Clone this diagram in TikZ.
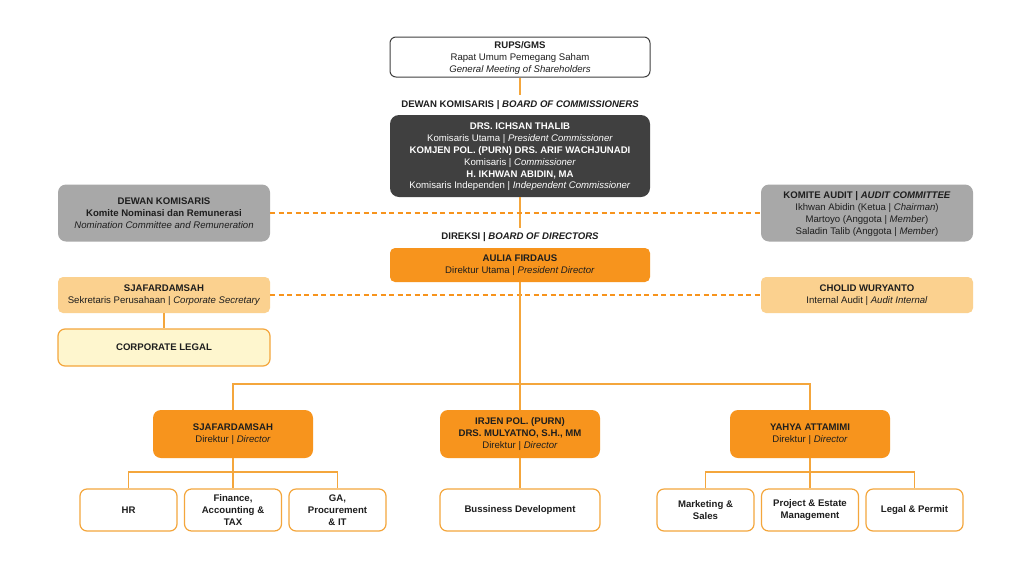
\documentclass[tikz,border=0pt]{standalone}
\usepackage{fontspec}
\setmainfont{Liberation Sans}
\definecolor{ormain}{HTML}{F7941D}
\definecolor{orlight}{HTML}{FBD18F}
\definecolor{orline}{HTML}{F4A63C}
\definecolor{legalfill}{HTML}{FEF6CE}
\definecolor{darkfill}{HTML}{404040}
\definecolor{grayfill}{HTML}{A8A8A8}
\definecolor{txt}{HTML}{1E1E1E}
\begin{document}
\begin{tikzpicture}[x=1pt,y=-1pt,
  every node/.style={font=\fontsize{9.6}{11.8}\selectfont, align=center, text=txt, inner sep=0pt},
  rupsbox/.style={draw=black!75, fill=white, line width=1pt, rounded corners=6pt, minimum width=260pt, minimum height=40pt, text depth=0pt},
  darkbox/.style={fill=darkfill, text=white, rounded corners=9pt, minimum width=260pt, minimum height=82pt, text depth=0pt},
  graybox/.style={fill=grayfill, rounded corners=8pt, minimum width=212pt, minimum height=57pt, text depth=0pt},
  orbox/.style={fill=ormain, rounded corners=5pt, minimum width=#1, minimum height=34pt},
  ltbox/.style={fill=orlight, rounded corners=5pt, minimum width=212pt, minimum height=36pt},
  dirbox/.style={fill=ormain, rounded corners=8pt, minimum width=160pt, minimum height=48pt},
  unitbox/.style={draw=orline, fill=white, line width=1.2pt, rounded corners=7pt, minimum width=#1, minimum height=42pt},
  legalbox/.style={draw=orline, fill=legalfill, line width=1.2pt, rounded corners=7pt, minimum width=212pt, minimum height=37pt},
  conn/.style={draw=orline, line width=1.2pt},
  dconn/.style={draw=ormain, line width=1.3pt, dash pattern=on 5pt off 3.5pt},
  lbl/.style={font=\fontsize{9.6}{11.6}\selectfont\bfseries}
]
\useasboundingbox (0,0) rectangle (1024,576);
\fill[white] (0,0) rectangle (1024,576);

% nodes
\node[rupsbox] (rups) at (520,57) {\textbf{RUPS/GMS}\\Rapat Umum Pemegang Saham\\\textit{General Meeting of Shareholders}};
\node[lbl] (boclbl) at (520,105) {DEWAN KOMISARIS | \textit{BOARD OF COMMISSIONERS}};
\node[darkbox] (boc) at (520,156) {\textbf{DRS. ICHSAN THALIB}\\Komisaris Utama | \textit{President Commissioner}\\\textbf{KOMJEN POL. (PURN) DRS. ARIF WACHJUNADI}\\Komisaris | \textit{Commissioner}\\\textbf{H. IKHWAN ABIDIN, MA}\\Komisaris Independen | \textit{Independent Commissioner}};
\node[graybox] (nom) at (164,213) {\textbf{DEWAN KOMISARIS}\\\textbf{Komite Nominasi dan Remunerasi}\\\textit{Nomination Committee and Remuneration}};
\node[graybox] (aud) at (867,213) {\textbf{KOMITE AUDIT | \textit{AUDIT COMMITTEE}}\\Ikhwan Abidin (Ketua | \textit{Chairman})\\Martoyo (Anggota | \textit{Member})\\Saladin Talib (Anggota | \textit{Member})};
\node[lbl] (bodlbl) at (520,237) {DIREKSI | \textit{BOARD OF DIRECTORS}};
\node[orbox=260pt] (pd) at (520,265) {\textbf{AULIA FIRDAUS}\\Direktur Utama | \textit{President Director}};
\node[ltbox] (sec) at (164,295) {\textbf{SJAFARDAMSAH}\\Sekretaris Perusahaan | \textit{Corporate Secretary}};
\node[ltbox] (ia) at (867,295) {\textbf{CHOLID WURYANTO}\\Internal Audit | \textit{Audit Internal}};
\node[legalbox] (cl) at (164,347.5) {\textbf{CORPORATE LEGAL}};

\node[dirbox] (d1) at (233,434) {\textbf{SJAFARDAMSAH}\\Direktur | \textit{Director}};
\node[dirbox] (d2) at (520,434) {\textbf{IRJEN POL. (PURN)}\\\textbf{DRS. MULYATNO, S.H., MM}\\Direktur | \textit{Director}};
\node[dirbox] (d3) at (810,434) {\textbf{YAHYA ATTAMIMI}\\Direktur | \textit{Director}};

\node[unitbox=97pt] (hr) at (128.5,510) {\textbf{HR}};
\node[unitbox=97pt] (fin) at (233,510) {\textbf{Finance,}\\\textbf{Accounting \&}\\\textbf{TAX}};
\node[unitbox=97pt] (ga) at (337.5,510) {\textbf{GA,}\\\textbf{Procurement}\\\textbf{\& IT}};
\node[unitbox=160pt] (bd) at (520,510) {\textbf{Bussiness Development}};
\node[unitbox=97pt] (mkt) at (705.5,510) {\textbf{Marketing \&}\\\textbf{Sales}};
\node[unitbox=97pt] (pem) at (810,510) {\textbf{Project \& Estate}\\\textbf{Management}};
\node[unitbox=97pt] (lp) at (914.5,510) {\textbf{Legal \& Permit}};

% connectors
\coordinate (c1) at (520,95);
\coordinate (c2) at (520,228);
\coordinate (hub) at (520,384);
\coordinate (lbus) at (233,472);
\coordinate (rbus) at (810,472);
\draw[conn] (rups.south) -- (c1);
\draw[conn] (boc.south) -- (c2);
\draw[dconn] (nom.east) -- (aud.west);
\draw[dconn] (sec.east) -- (ia.west);
\draw[conn] (sec.south) -- (cl.north);
\draw[conn] (pd.south) -- (hub);
\draw[conn] (d1.north) |- (hub) -| (d3.north);
\draw[conn] (hub) -- (d2.north);
\draw[conn] (d1.south) -- (lbus);
\draw[conn] (hr.north) |- (lbus) -| (ga.north);
\draw[conn] (lbus) -- (fin.north);
\draw[conn] (d2.south) -- (bd.north);
\draw[conn] (d3.south) -- (rbus);
\draw[conn] (mkt.north) |- (rbus) -| (lp.north);
\draw[conn] (rbus) -- (pem.north);
\end{tikzpicture}
\end{document}
